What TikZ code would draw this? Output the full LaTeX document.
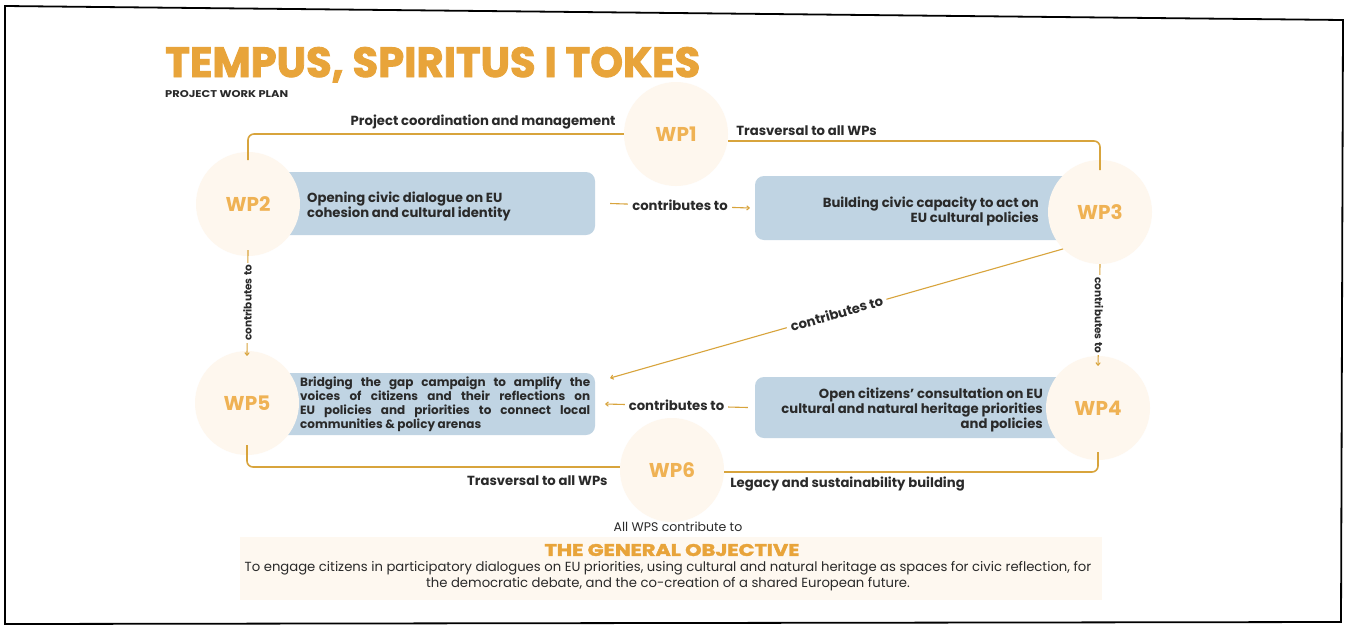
\documentclass[tikz,border=0pt]{standalone}
\usepackage{fontspec}
\setmainfont{Poppins}
\newfontfamily\heavy[BoldFeatures={FakeBold=2}]{Poppins}
\usetikzlibrary{arrows.meta}
\definecolor{orng}{HTML}{E8A43A}
\definecolor{wpor}{HTML}{EFB254}
\definecolor{gline}{HTML}{D8A43C}
\definecolor{boxb}{HTML}{C0D4E3}
\definecolor{circ}{HTML}{FEF7EE}
\definecolor{band}{HTML}{FEF8F0}
\definecolor{ink}{HTML}{2A2A2A}
\tikzset{
  wpc/.style={circle, fill=circ, minimum size=104pt, inner sep=0pt, text=wpor,
    font=\bfseries\fontsize{20}{20}\selectfont},
  boxfill/.style={fill=boxb, rounded corners=9pt, inner sep=0pt},
  link/.style={gline, line width=1.6pt, rounded corners=6pt},
  flow/.style={gline, line width=1.1pt, -{To[length=3.5pt,width=5pt]}},
  lbl/.style={text=ink, inner sep=0pt, font=\bfseries\fontsize{13.2}{14}\selectfont},
  lblw/.style={lbl, fill=white, inner sep=4pt},
  vlbl/.style={lblw, font=\bfseries\fontsize{10.5}{11}\selectfont, inner sep=2.5pt},
  boxtxt/.style={text=ink, inner sep=0pt, font=\bfseries\fontsize{13.2}{15}\selectfont},
}
\begin{document}
\begin{tikzpicture}[x=1pt,y=-1pt]
\useasboundingbox (0,0) rectangle (1348,635);
\fill[white] (0,0) rectangle (1348,635);
% scanned page frame
\draw[line width=1.8pt, black] (5,6) -- (1343,20) -- (1341,622) -- (5,624) -- cycle;

% title
\node[anchor=base west, inner sep=0pt, text=orng] (title) at (165,77)
  {\resizebox{535pt}{30pt}{\heavy\bfseries TEMPUS, SPIRITUS I TOKES}};
\node[anchor=base west, inner sep=0pt, text=ink] (sub) at (165,97)
  {\resizebox{123pt}{7pt}{\bfseries PROJECT WORK PLAN}};

% objective band
\fill[band] (240,537) rectangle (1102,600);

% WP circles (positions)
\coordinate (c1) at (676,134);
\coordinate (c2) at (248,204);
\coordinate (c3) at (1100,212);
\coordinate (c4) at (1098,408);
\coordinate (c5) at (247,403);
\coordinate (c6) at (672,470);

% boxes
\node[boxfill, minimum width=347pt, minimum height=63pt] (b2) at (421.5,203.5) {};
\node[boxfill, minimum width=345pt, minimum height=64pt] (b3) at (927.5,208) {};
\node[boxfill, minimum width=348pt, minimum height=62pt] (b5) at (421,404) {};
\node[boxfill, minimum width=343pt, minimum height=61pt] (b4) at (926.5,407.5) {};

% circles
\node[wpc] (wp1) at (c1) {WP1};
\node[wpc] (wp2) at (c2) {WP2};
\node[wpc] (wp3) at (c3) {WP3};
\node[wpc] (wp4) at (c4) {WP4};
\node[wpc] (wp5) at (c5) {WP5};
\node[wpc] (wp6) at (c6) {WP6};

% transversal links
\draw[link] ([yshift=44pt]wp2.center) |- (wp1.west);
\draw[link] ([yshift=-7pt]wp1.east) -| ([yshift=42pt]wp3.center);
\draw[link] ([yshift=-42pt]wp5.center) |- ([yshift=3pt]wp6.west);
\draw[link] ([yshift=-2pt]wp6.east) -| ([yshift=-44pt]wp4.center);

% link labels
\node[lbl, anchor=south east] (l1) at ([xshift=-8pt,yshift=5pt]wp1.west) {Project coordination and management};
\node[lbl, anchor=south west] (l2) at ([xshift=8pt,yshift=-2pt]wp1.east) {Trasversal to all WPs};
\node[lbl, anchor=north east] (l3) at ([xshift=-12pt,yshift=-6pt]wp6.west) {Trasversal to all WPs};
\node[lbl, anchor=north west] (l4) at ([xshift=6pt,yshift=-7pt]wp6.east) {Legacy and sustainability building};

% box texts
\node[boxtxt, anchor=west, align=left] (t2) at (307,206)
  {Opening civic dialogue on EU\\cohesion and cultural identity};
\node[boxtxt, anchor=east, align=right] (t3) at (1039,211)
  {Building civic capacity to act on\\EU cultural policies};
\node[boxtxt, anchor=west, align=left, font=\bfseries\fontsize{12}{14}\selectfont] (t5) at (300,404)
  {\makebox[290pt][s]{Bridging the gap campaign to amplify the}\\
   \makebox[290pt][s]{voices of citizens and their reflections on}\\
   \makebox[290pt][s]{EU policies and priorities to connect local}\\
   communities \& policy arenas};
\node[boxtxt, anchor=east, align=right] (t4) at (1043,410)
  {Open citizens' consultation on EU\\cultural and natural heritage priorities\\and policies};

% contributes-to flows
\draw[flow] ([yshift=6pt]wp2.south) -- ([yshift=-5pt]wp5.north)
  node[midway, vlbl, rotate=90] {contributes to};
\draw[flow] ([xshift=15pt]b2.east) -- ([xshift=-5pt]b3.west)
  node[midway, lblw] {contributes to};
\draw[flow] ([xshift=-7pt]b4.west) -- ([xshift=10pt]b5.east)
  node[midway, lblw] {contributes to};
\draw[flow] (wp3.south) -- ([yshift=-10pt]wp4.north)
  node[midway, vlbl, rotate=-90] {contributes to};
\draw[flow] (wp3.south west) -- ([xshift=15pt,yshift=26pt]b5.east)
  node[midway, lblw, sloped] {contributes to};

% general objective
\node[inner sep=0pt, text=ink, font=\fontsize{12.5}{13}\selectfont] (all) at (678,527) {All WPS contribute to};
\node[inner sep=0pt, text=orng] (go) at (672,550)
  {\resizebox{255pt}{12pt}{\heavy\bfseries THE GENERAL OBJECTIVE}};
\node[inner sep=0pt, text=ink, align=center, font=\fontsize{13.2}{16}\selectfont] (obj) at (668,576)
  {To engage citizens in participatory dialogues on EU priorities, using cultural and natural heritage as spaces for civic reflection, for\\
   the democratic debate, and the co-creation of a shared European future.};
\end{tikzpicture}
\end{document}
